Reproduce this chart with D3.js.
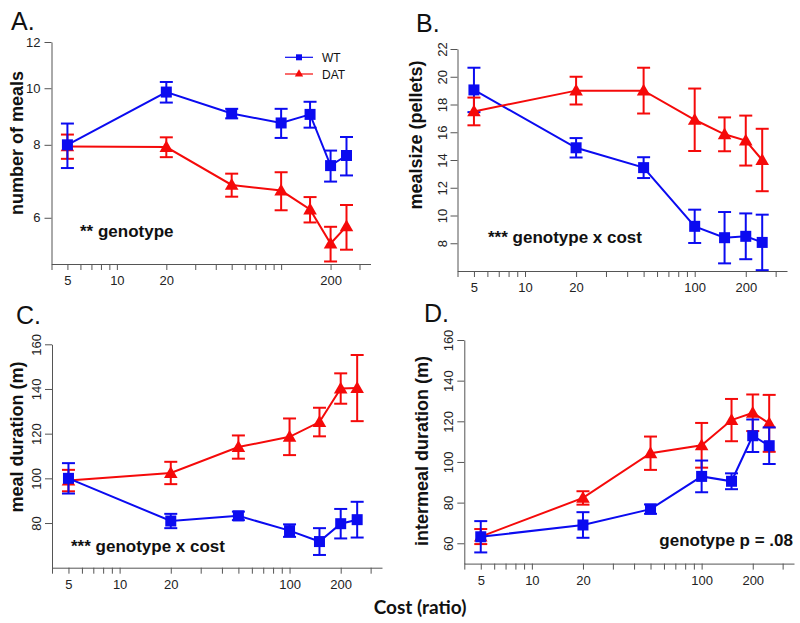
<!DOCTYPE html>
<html><head><meta charset="utf-8">
<script src="https://cdn.jsdelivr.net/npm/d3@7"></script>
<style>body{margin:0;background:#fff} svg{display:block}</style>
</head><body>
<svg id="c" width="800" height="623"></svg>
<script>
// ---- data ----
const costs = [5, 20, 50, 100, 150, 200, 250];

const mealsWT     = [8.0, 9.85, 9.05, 8.72, 9.02, 7.37, 7.67];
const mealsWTse   = [0.7, 0.4, 0.17, 0.5, 0.46, 0.45, 0.58];
const mealsDAT    = [7.95, 7.93, 6.83, 6.68, 6.2, 5.42, 5.8];
const mealsDATse  = [0.38, 0.31, 0.31, 0.5, 0.31, 0.37, 0.51];

const sizeWT      = [19.05, 14.88, 13.45, 9.22, 8.4, 8.5, 8.06];
const sizeWTse    = [1.6, 0.7, 0.75, 1.2, 1.85, 1.65, 2.0];
const sizeDAT     = [17.5, 19.0, 19.0, 16.9, 15.85, 15.4, 14.0];
const sizeDATse   = [1.0, 1.0, 1.65, 2.25, 1.22, 1.8, 2.25];

const durWT       = [100, 80.9, 83.2, 76.6, 71.7, 79.7, 81.5];
const durWTse     = [6.8, 3.2, 1.9, 2.8, 6.0, 6.6, 8.0];
const durDAT      = [99, 102.4, 114, 118.6, 125.2, 140.2, 140.4];
const durDATse    = [4.8, 5.0, 5.2, 8.2, 6.4, 6.8, 14.8];

const interWT     = [63.2, 69.0, 76.8, 92.9, 90.5, 112.9, 108.0];
const interWTse   = [7.7, 6.3, 2.3, 7.8, 3.9, 8.0, 9.0];
const interDAT    = [63.3, 82.3, 104.3, 108.2, 120.6, 124.2, 119.0];
const interDATse  = [3.7, 3.3, 8.2, 11.0, 10.4, 9.0, 14.0];

const xTickValues = [4,5,6,7,8,9,10,20,30,40,50,60,70,80,90,100,200,300];
const xLabelsA    = [5, 10, 20, 200];
const xLabels     = [5, 10, 20, 100, 200];
const yTicksA     = [6, 8, 10, 12];
const yTicksB     = [8, 10, 12, 14, 16, 18, 20, 22];
const yTicksC     = [80, 100, 120, 140, 160];
const yTicksD     = [60, 80, 100, 120, 140, 160];

const seriesNames = ["WT", "DAT"];
const BLUE = "#0b0bf0", RED = "#f50a0a";
const SANS = "'Liberation Sans', Arial, Helvetica, sans-serif";
const CAL = "Lato, 'Open Sans', sans-serif";

const panels = [
  {letter:"A.", lx:11, ly:30, rect:{l:51.5,r:370.5,t:42,b:264}, ylog:true, ydom:[5,12], yticks:yTicksA, xlabels:xLabelsA,
   ytitle:"number of meals", tx:23, ty:143, horizY:true,
   wt:mealsWT, wtse:mealsWTse, dat:mealsDAT, datse:mealsDATse, blueFirst:false,
   note:"** genotype", nx:80, ny:237, nanchor:"start"},
  {letter:"B.", lx:416, ly:32, rect:{l:457.5,r:787,t:49,b:271}, ylog:false, ydom:[6,22], yticks:yTicksB, xlabels:xLabels,
   ytitle:"mealsize (pellets)", tx:422, ty:135, horizY:false,
   wt:sizeWT, wtse:sizeWTse, dat:sizeDAT, datse:sizeDATse, blueFirst:true,
   note:"*** genotype x cost", nx:488, ny:243, nanchor:"start"},
  {letter:"C.", lx:16, ly:324, rect:{l:52,r:382,t:344.3,b:567.7}, ylog:false, ydom:[60,160], yticks:yTicksC, xlabels:xLabels,
   ytitle:"meal duration (m)", tx:23, ty:437, horizY:false,
   wt:durWT, wtse:durWTse, dat:durDAT, datse:durDATse, blueFirst:false,
   note:"*** genotype x cost", nx:71, ny:552, nanchor:"start"},
  {letter:"D.", lx:424, ly:322, rect:{l:464.3,r:794,t:340,b:563.6}, ylog:false, ydom:[50,160], yticks:yTicksD, xlabels:xLabels,
   ytitle:"intermeal duration (m)", tx:428, ty:451, horizY:false,
   wt:interWT, wtse:interWTse, dat:interDAT, datse:interDATse, blueFirst:false,
   note:"genotype p = .08", nx:793, ny:546, nanchor:"end"}
];

const svg = d3.select("#c");
svg.append("rect").attr("width",800).attr("height",623).attr("fill","#fff");

panels.forEach(p => {
  const r = p.rect;
  const x = d3.scaleLog().domain([4, 350]).range([r.l, r.r]);
  const y = (p.ylog ? d3.scaleLog() : d3.scaleLinear()).domain(p.ydom).range([r.b, r.t]);
  const g = svg.append("g");

  // panel letter
  svg.append("text").attr("x", p.lx).attr("y", p.ly).text(p.letter)
    .attr("font-family", SANS).attr("font-size", 25).attr("fill", "#111");

  // x axis
  const xa = g.append("g").attr("transform", `translate(0,${r.b})`)
    .call(d3.axisBottom(x).tickValues(xTickValues).tickSize(6).tickSizeOuter(0).tickPadding(6)
      .tickFormat(d => p.xlabels.includes(d) ? String(d) : ""));
  xa.selectAll("text").attr("font-family", SANS).attr("font-size", 13).attr("fill", "#222");
  xa.selectAll("path,line").attr("stroke", "#555");

  // y axis
  const ya = g.append("g").attr("transform", `translate(${r.l},0)`)
    .call(d3.axisLeft(y).tickValues(p.yticks).tickSize(7).tickSizeOuter(0).tickPadding(4)
      .tickFormat(d3.format("d")));
  ya.selectAll("path,line").attr("stroke", "#555");
  const yt = ya.selectAll("text").attr("font-family", SANS).attr("font-size", 13).attr("fill", "#222");
  if (!p.horizY) {
    yt.attr("transform", "rotate(-90)").attr("text-anchor", "middle")
      .attr("x", 0).attr("y", -11).attr("dy", null);
  }

  // y title
  svg.append("text").attr("transform", `translate(${p.tx},${p.ty}) rotate(-90)`)
    .attr("text-anchor", "middle").attr("font-family", SANS).attr("font-weight", "bold")
    .attr("font-size", 18).attr("fill", "#111").text(p.ytitle);

  // annotation
  svg.append("text").attr("x", p.nx).attr("y", p.ny).attr("text-anchor", p.nanchor)
    .attr("font-family", SANS).attr("font-weight", "bold").attr("font-size", 17)
    .attr("fill", "#111").text(p.note);

  const drawSeries = (vals, ses, color, shape) => {
    const sg = g.append("g");
    const line = d3.line().x((d, i) => x(costs[i])).y(d => y(d));
    sg.append("path").datum(vals).attr("d", line).attr("fill", "none")
      .attr("stroke", color).attr("stroke-width", 2);
    vals.forEach((v, i) => {
      const cx = x(costs[i]);
      const y1 = y(v + ses[i]), y0 = y(Math.max(v - ses[i], p.ydom[0] * 0.5));
      sg.append("line").attr("x1", cx).attr("x2", cx).attr("y1", y1).attr("y2", y0)
        .attr("stroke", color).attr("stroke-width", 2);
      [y1, y0].forEach(yy => sg.append("line").attr("x1", cx - 6.5).attr("x2", cx + 6.5)
        .attr("y1", yy).attr("y2", yy).attr("stroke", color).attr("stroke-width", 2));
      if (shape === "square") {
        sg.append("rect").attr("x", cx - 5.5).attr("y", y(v) - 5.5).attr("width", 11).attr("height", 11)
          .attr("fill", color);
      } else {
        sg.append("path").attr("transform", `translate(${cx},${y(v) + 1})`)
          .attr("d", d3.symbol(d3.symbolTriangle, 80)()).attr("fill", color);
      }
    });
  };
  if (p.blueFirst) {
    drawSeries(p.wt, p.wtse, BLUE, "square");
    drawSeries(p.dat, p.datse, RED, "triangle");
  } else {
    drawSeries(p.dat, p.datse, RED, "triangle");
    drawSeries(p.wt, p.wtse, BLUE, "square");
  }

  // legend (panel A only)
  if (p.letter === "A.") {
    const lg = svg.append("g");
    [[BLUE, "square", 57.3], [RED, "triangle", 74]].forEach((s, k) => {
      lg.append("line").attr("x1", 285).attr("x2", 313).attr("y1", s[2]).attr("y2", s[2])
        .attr("stroke", s[0]).attr("stroke-width", 1.2);
      if (s[1] === "square") {
        lg.append("rect").attr("x", 296).attr("y", s[2] - 3).attr("width", 6).attr("height", 6).attr("fill", s[0]);
      } else {
        lg.append("path").attr("transform", `translate(299,${s[2]})`)
          .attr("d", d3.symbol(d3.symbolTriangle, 30)()).attr("fill", s[0]);
      }
      lg.append("text").attr("x", 322).attr("y", s[2] + 4.5).text(seriesNames[k])
        .attr("font-family", SANS).attr("font-size", 12).attr("fill", "#111");
    });
  }
});

// shared x title
svg.append("text").attr("x", 420).attr("y", 614).attr("text-anchor", "middle")
  .attr("font-family", CAL).attr("font-weight", "bold").attr("font-size", 19)
  .attr("fill", "#111").text("Cost (ratio)");
</script>
</body></html>
